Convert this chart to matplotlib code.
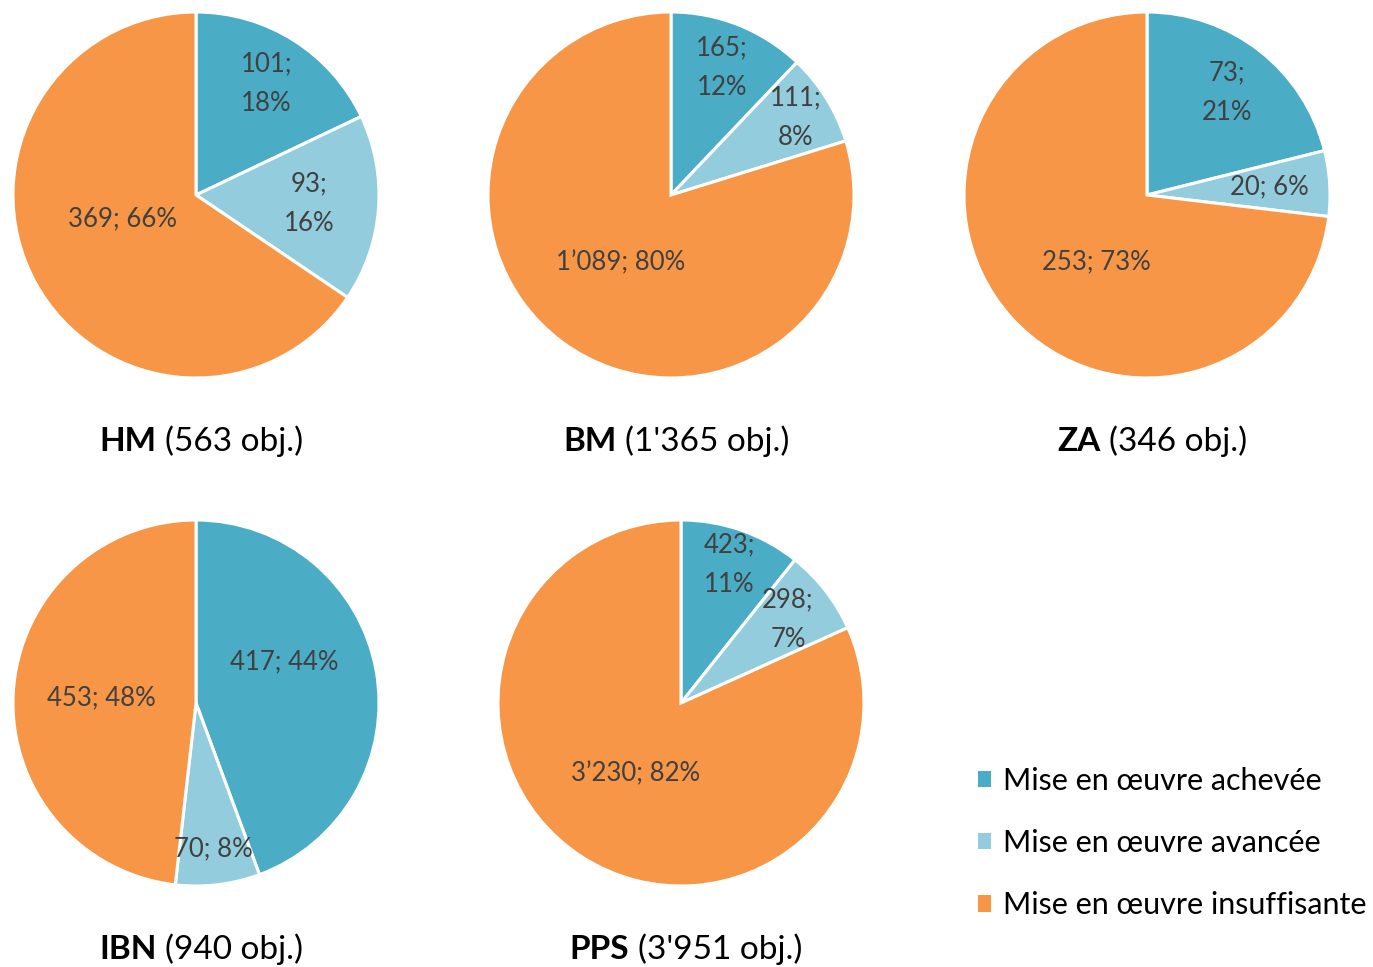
import numpy as np
import matplotlib.pyplot as plt
from matplotlib.patches import Patch
from matplotlib.offsetbox import TextArea, HPacker, AnnotationBbox

plt.rcParams['font.family'] = ['Lato', 'DejaVu Sans']

# Data
names = ['HM', 'BM', 'ZA', 'IBN', 'PPS']
totals = ["563", "1'365", "346", "940", "3'951"]
achevee = [101, 165, 73, 417, 423]
avancee = [93, 111, 20, 70, 298]
insuffisante = [369, 1089, 253, 453, 3230]
pct_achevee = [18, 12, 21, 44, 11]
pct_avancee = [16, 8, 6, 8, 7]
pct_insuffisante = [66, 80, 73, 48, 82]
categories = ['Mise en œuvre achevée', 'Mise en œuvre avancée',
              'Mise en œuvre insuffisante']
colors = ['#4BACC6', '#93CDDD', '#F79646']

# Layout (pixels)
W, H = 1373, 967
R = 183
centers = [(196, 195), (671, 195), (1147, 195), (196, 703), (681, 703)]
label_r = [[0.72, 0.62, 0.42], [0.75, 0.80, 0.46], [0.71, 0.67, 0.46],
           [0.535, 0.80, 0.52], [0.80, 0.74, 0.46]]
label_dang = [[0, 0, -10], [0, 0, 0], [0, 0, 11],
              [15, 0, 0], [0, 0, 0]]
wrap = [[True, True, False], [True, True, False], [True, False, False],
        [False, False, False], [True, True, False]]


def fmt(v):
    return f"{v:,}".replace(',', '\u2019')


fig = plt.figure(figsize=(W / 100, H / 100), dpi=100)

for i, name in enumerate(names):
    cx, cy = centers[i]
    pad = 4
    ax = fig.add_axes([(cx - R - pad) / W, 1 - (cy + R + pad) / H,
                       2 * (R + pad) / W, 2 * (R + pad) / H])
    vals = [achevee[i], avancee[i], insuffisante[i]]
    pcts = [pct_achevee[i], pct_avancee[i], pct_insuffisante[i]]
    wedges, _ = ax.pie(vals, colors=colors, startangle=90, counterclock=False,
                       radius=1, wedgeprops=dict(edgecolor='white', linewidth=2.2))
    lim = (R + pad) / R
    ax.set_xlim(-lim, lim)
    ax.set_ylim(-lim, lim)
    for j, w in enumerate(wedges):
        ang = np.deg2rad((w.theta1 + w.theta2) / 2 + label_dang[i][j])
        sep = '\n' if wrap[i][j] else ' '
        txt = f"{fmt(vals[j])};{sep}{pcts[j]}%"
        ax.text(label_r[i][j] * np.cos(ang), label_r[i][j] * np.sin(ang), txt,
                ha='center', va='center', fontsize=18.5, color='#404040',
                linespacing=1.75)

    title = HPacker(children=[
        TextArea(name, textprops=dict(fontsize=24, fontweight='bold', color='black')),
        TextArea(f"({totals[i]} obj.)", textprops=dict(fontsize=24, color='black')),
    ], align='baseline', pad=0, sep=6)
    ab = AnnotationBbox(title, (cx + 5, H - (cy + 246)), xycoords='figure pixels',
                        box_alignment=(0.5, 0.5), frameon=False)
    fig.add_artist(ab)

handles = [Patch(facecolor=c, edgecolor='none') for c in colors]
fig.legend(handles, categories, loc='center left',
           bbox_to_anchor=(950 / W, 1 - 843 / H), frameon=False, fontsize=22,
           handlelength=0.45, handleheight=0.45, handletextpad=0.4,
           labelspacing=1.12)

fig.savefig('out.png', dpi=100, facecolor='white')
